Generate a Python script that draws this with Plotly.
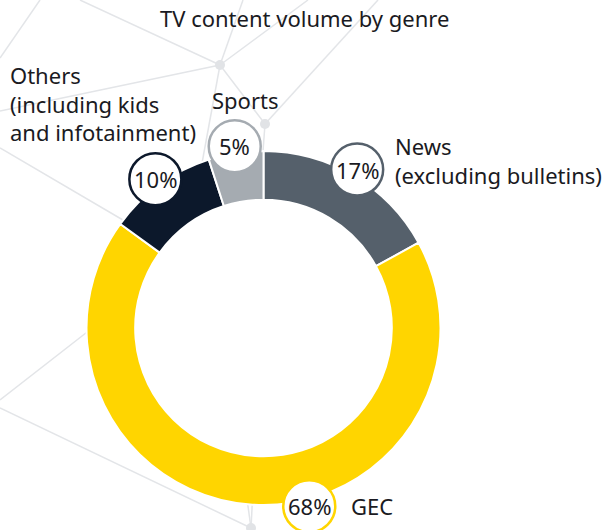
import math
import plotly.graph_objects as go

# ---------------- data ----------------
genres = ["News", "GEC", "Others", "Sports"]
shares = [17, 68, 10, 5]
genre_labels = ["News<br>(excluding bulletins)", "GEC",
                "Others<br>(including kids<br>and infotainment)", "Sports"]
colors = ["#55606B", "#FFD500", "#0C182B", "#A5ABB1"]
title_text = "TV content volume by genre"

# ---------------- layout constants (pixels) ----------------
W, H = 603, 530
CX, CY, R = 263.5, 328.0, 177.0
HOLE = 0.725
BADGE_R = 26
BADGE_DIST = R + 7
BADGE_ANGLE_SHIFT = {"GEC": -18.0}   # GEC badge is nudged along the ring
FONT = "Noto Sans"
FS = 22
TXT = "#1A1A22"

# name label placement relative to badge centre (dx, dy, xanchor)
name_offsets = {
    "News": (36, -9, "left"),
    "GEC": (40, 0, "left"),
    "Others": (-147, -76, "left"),
    "Sports": (10, -46, "center"),
}

# decorative background network (pixel coords)
bg_segments = [
    (0, 58, 40, 0), (80, 0, 220, 65), (220, 65, 0, 111), (220, 65, 243, 0),
    (220, 65, 308, 0), (220, 65, 198, 185), (220, 65, 265, 124),
    (265, 124, 378, 0), (265, 124, 262, 165), (0, 148, 140, 230),
    (0, 400, 100, 322), (0, 408, 251, 528), (251, 528, 243, 470),
    (251, 528, 254, 470),
]
bg_nodes = [(220, 65), (265, 124), (251, 528)]

fig = go.Figure()

# donut
fig.add_trace(go.Pie(
    labels=genres, values=shares, sort=False, direction="clockwise",
    rotation=0, hole=HOLE, textinfo="none", showlegend=False,
    marker=dict(colors=colors, line=dict(color="white", width=2)),
    domain=dict(x=[(CX - R) / W, (CX + R) / W],
                y=[1 - (CY + R) / H, 1 - (CY - R) / H]),
))

# invisible cartesian trace to establish pixel axes
fig.add_trace(go.Scatter(x=[0, W], y=[0, H], mode="markers",
                         marker=dict(opacity=0), hoverinfo="skip",
                         showlegend=False))

shapes = []
for x0, y0, x1, y1 in bg_segments:
    shapes.append(dict(type="line", xref="x", yref="y", x0=x0, y0=y0,
                       x1=x1, y1=y1, layer="below",
                       line=dict(color="#E3E5E8", width=1.5)))
for nx, ny in bg_nodes:
    shapes.append(dict(type="circle", xref="x", yref="y", x0=nx - 5,
                       y0=ny - 5, x1=nx + 5, y1=ny + 5, layer="below",
                       fillcolor="#E1E3E6", line=dict(width=0)))

annotations = [dict(text=title_text, x=304, y=18, xref="x", yref="y",
                    showarrow=False, xanchor="center", yanchor="middle",
                    font=dict(family=FONT, size=FS, color=TXT))]

total = sum(shares)
cum = 0
for g, v, lab, c in zip(genres, shares, genre_labels, colors):
    mid = (cum + v / 2) / total * 360 + BADGE_ANGLE_SHIFT.get(g, 0)
    cum += v
    a = math.radians(mid)
    bx = CX + BADGE_DIST * math.sin(a)
    by = CY - BADGE_DIST * math.cos(a)
    shapes.append(dict(type="circle", xref="x", yref="y", layer="above",
                       x0=bx - BADGE_R, x1=bx + BADGE_R,
                       y0=by - BADGE_R, y1=by + BADGE_R,
                       fillcolor="white", line=dict(color=c, width=2.5)))
    annotations.append(dict(text=f"{v}%", x=bx, y=by, xref="x", yref="y",
                            showarrow=False, xanchor="center",
                            yanchor="middle",
                            font=dict(family=FONT, size=FS, color=TXT)))
    dx, dy, xa = name_offsets[g]
    annotations.append(dict(text=lab, x=bx + dx, y=by + dy, xref="x",
                            yref="y", showarrow=False, xanchor=xa,
                            yanchor="middle", align=xa,
                            font=dict(family=FONT, size=FS, color=TXT)))

fig.update_layout(
    width=W, height=H, margin=dict(l=0, r=0, t=0, b=0),
    paper_bgcolor="white", plot_bgcolor="rgba(0,0,0,0)",
    xaxis=dict(range=[0, W], visible=False, fixedrange=True, domain=[0, 1]),
    yaxis=dict(range=[H, 0], visible=False, fixedrange=True, domain=[0, 1]),
    shapes=shapes, annotations=annotations, showlegend=False,
)

fig.write_html("out.html", config={"displayModeBar": False},
               post_script="document.body.style.margin='0';"
                           "document.body.style.overflow='hidden';")
